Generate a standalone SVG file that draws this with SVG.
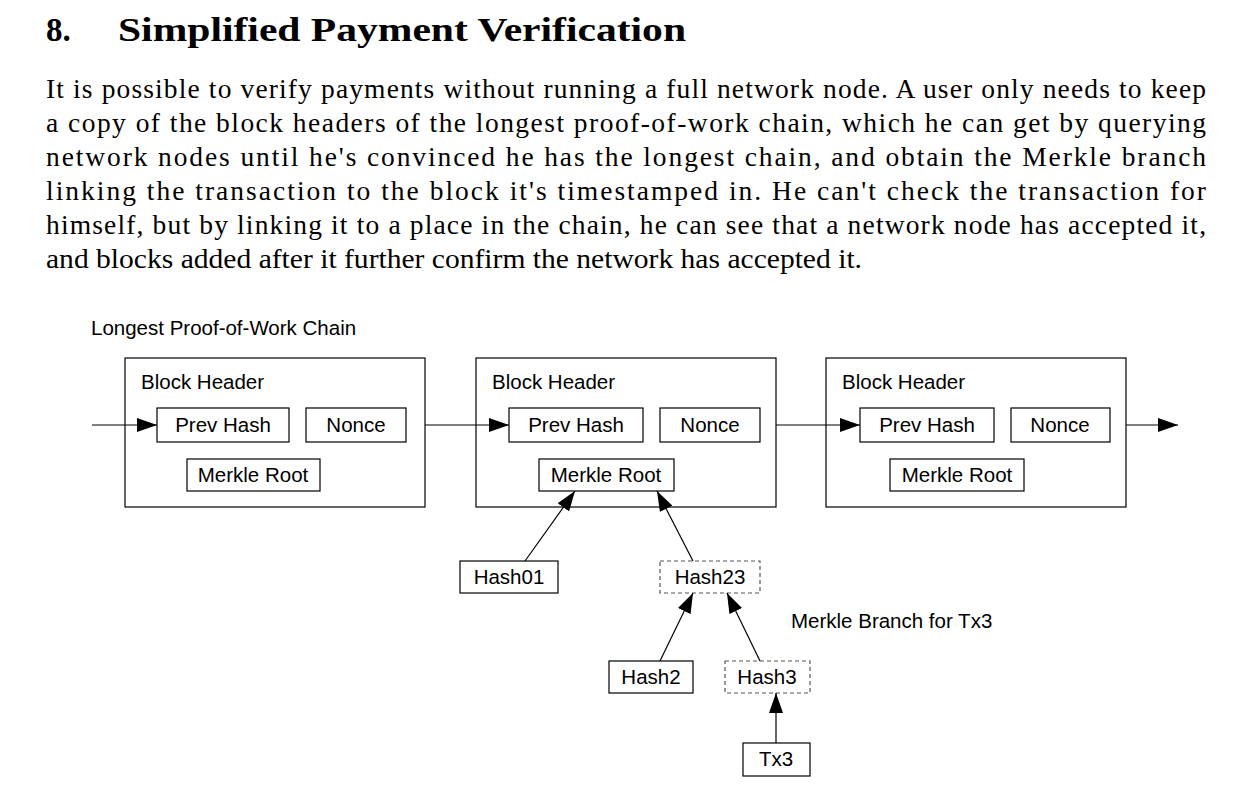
<svg xmlns="http://www.w3.org/2000/svg" width="1248" height="806" viewBox="0 0 1248 806">
<style>
.t{font-family:"Liberation Serif",serif;font-size:27.5px;fill:#000}
.h{font-family:"Liberation Serif",serif;font-size:33px;font-weight:bold;fill:#000}
.s{font-family:"Liberation Sans",Arial,sans-serif;font-size:20.5px;fill:#000}
.c{text-anchor:middle}
.b{fill:#fff;stroke:#000;stroke-width:1.2}
.d{fill:#fff;stroke:#555;stroke-width:1.2;stroke-dasharray:4 3}
.l{stroke:#000;stroke-width:1.2;fill:none;marker-end:url(#a)}
</style>
<defs><marker id="a" markerWidth="20" markerHeight="14" refX="20" refY="7" orient="auto" markerUnits="userSpaceOnUse"><path d="M0,0 L20,7 L0,14z" fill="#000"/></marker></defs>
<rect width="1248" height="806" fill="#fff"/>
<text class="h" x="46" y="41">8.</text>
<text class="h" x="118" y="41" textLength="568" lengthAdjust="spacingAndGlyphs">Simplified Payment Verification</text>
<text class="t" x="46" y="98" textLength="1160" lengthAdjust="spacing">It is possible to verify payments without running a full network node.  A user only needs to keep</text>
<text class="t" x="46" y="132" textLength="1160" lengthAdjust="spacing">a copy of the block headers of the longest proof-of-work chain, which he can get by querying</text>
<text class="t" x="46" y="166" textLength="1160" lengthAdjust="spacing">network nodes until he's convinced he has the longest chain, and obtain the Merkle branch</text>
<text class="t" x="46" y="200" textLength="1160" lengthAdjust="spacing">linking the transaction to the block it's timestamped in.  He can't check the transaction for</text>
<text class="t" x="46" y="234" textLength="1160" lengthAdjust="spacing">himself, but by linking it to a place in the chain, he can see that a network node has accepted it,</text>
<text class="t" x="46" y="268" textLength="816" lengthAdjust="spacingAndGlyphs">and blocks added after it further confirm the network has accepted it.</text>
<text class="s" x="91" y="335">Longest Proof-of-Work Chain</text>
<text class="s" x="791" y="628">Merkle Branch for Tx3</text>
<g id="block1"><rect class="b" x="125" y="358" width="300" height="149"/><text class="s" x="141" y="389">Block Header</text>
<rect class="b" x="157" y="408" width="132" height="34"/><text class="s c" x="223" y="432">Prev Hash</text>
<rect class="b" x="306" y="408" width="100" height="34"/><text class="s c" x="356" y="432">Nonce</text>
<rect class="b" x="187" y="459" width="133" height="32"/><text class="s c" x="253" y="482">Merkle Root</text></g>
<g id="block2"><rect class="b" x="476" y="358" width="300" height="149"/><text class="s" x="492" y="389">Block Header</text>
<rect class="b" x="509" y="408" width="134" height="34"/><text class="s c" x="576" y="432">Prev Hash</text>
<rect class="b" x="660" y="408" width="100" height="34"/><text class="s c" x="710" y="432">Nonce</text>
<rect class="b" x="539" y="459" width="135" height="32"/><text class="s c" x="606" y="482">Merkle Root</text></g>
<g id="block3"><rect class="b" x="826" y="358" width="300" height="149"/><text class="s" x="842" y="389">Block Header</text>
<rect class="b" x="860" y="408" width="134" height="34"/><text class="s c" x="927" y="432">Prev Hash</text>
<rect class="b" x="1011" y="408" width="99" height="34"/><text class="s c" x="1060" y="432">Nonce</text>
<rect class="b" x="890" y="459" width="134" height="32"/><text class="s c" x="957" y="482">Merkle Root</text></g>
<g id="hash01"><rect class="b" x="460" y="561" width="98" height="32"/><text class="s c" x="509" y="584">Hash01</text></g>
<g id="hash23"><rect class="d" x="660" y="561" width="100" height="32"/><text class="s c" x="710" y="584">Hash23</text></g>
<g id="hash2"><rect class="b" x="609" y="661" width="84" height="32"/><text class="s c" x="651" y="684">Hash2</text></g>
<g id="hash3"><rect class="d" x="725" y="661" width="85" height="32"/><text class="s c" x="767" y="684">Hash3</text></g>
<g id="tx3"><rect class="b" x="743" y="743" width="67" height="33"/><text class="s c" x="776" y="766">Tx3</text></g>
<g id="connectors">
<line class="l" x1="92" y1="425" x2="157" y2="425"/>
<line class="l" x1="425" y1="425" x2="509" y2="425"/>
<line class="l" x1="776" y1="425" x2="860" y2="425"/>
<line class="l" x1="1126" y1="425" x2="1178" y2="425"/>
<line class="l" x1="525" y1="561" x2="575" y2="491"/>
<line class="l" x1="693" y1="561" x2="657" y2="491"/>
<line class="l" x1="660" y1="661" x2="693" y2="593"/>
<line class="l" x1="760" y1="661" x2="727" y2="593"/>
<line class="l" x1="776" y1="743" x2="776" y2="693"/>
</g>
</svg>
